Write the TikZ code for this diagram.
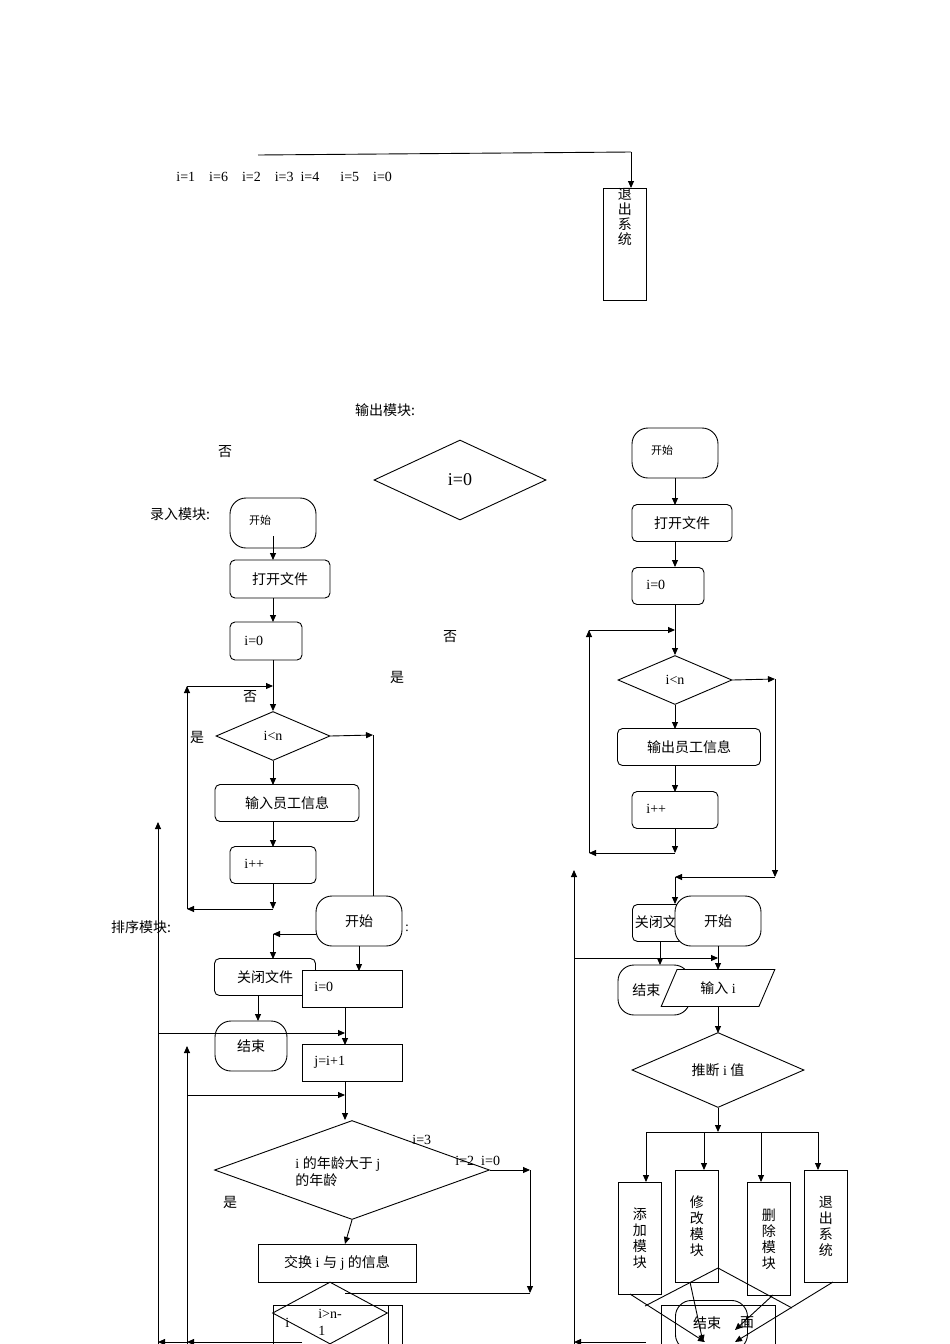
\documentclass[tikz,border=0pt]{standalone}
\usepackage{fontspec}
\setmainfont{Liberation Serif}
\newfontfamily\cjk{Noto Sans CJK SC}
\newcommand{\zh}[1]{{\cjk #1}}
\usetikzlibrary{shapes.geometric,arrows.meta}
\begin{document}
\begin{tikzpicture}[x=1pt,y=-1pt,line width=0.9pt,
  >={Triangle[length=7pt,width=6pt]},
  every node/.style={font=\fontsize{14}{17}\selectfont,inner sep=0pt},
  box/.style={draw,fill=white,rectangle},
  rbox/.style={draw,fill=white,rectangle,rounded corners=5pt},
  stad/.style={draw,fill=white,rectangle,rounded corners=16pt},
  dia/.style={draw,fill=white,diamond,aspect=2.2},
  vbox/.style={draw,fill=white,rectangle,anchor=north west,align=center,text width=16pt,font=\fontsize{14}{16}\selectfont},
  lab/.style={anchor=west}]
\useasboundingbox (0,0) rectangle (950,1344);
% top
\node[lab] (topi) at (176,177) {i=1\quad i=6\quad i=2\quad i=3\enspace i=4\quad\enspace i=5\quad i=0};
\node[draw,fill=white,minimum width=43pt,minimum height=112pt,anchor=north west] (ex1) at (603,188) {};
\node[anchor=north,align=center,font=\fontsize{14}{16}\selectfont] at (ex1.north) {\zh{退}\\[-1pt]\zh{出}\\[-1pt]\zh{系}\\[-1pt]\zh{统}};
\coordinate (t0) at (258,155);
\coordinate (t1) at (631,152);
\draw (t0) -- (t1);
\draw[->] (t1) -- (ex1.north-|t1);
\node at (385,410) {\zh{输出模块:}};
\node at (225,452) {\zh{否}};
\node[dia,minimum width=172pt,minimum height=80pt,aspect=2.15,font=\fontsize{18}{20}\selectfont] (d0) at (460,480) {i=0};
\node at (180,514) {\zh{录入模块:}};
\node at (450,637) {\zh{否}};
\node at (397,677) {\zh{是}};
% left column
\node[stad,minimum width=86pt,minimum height=50pt] (s1) at (273,523) {};
\node[font=\fontsize{11}{13}\selectfont] at (260,520) {\zh{开始}};
\node[rbox,minimum width=100pt,minimum height=38pt] (of1) at (280,579) {\zh{打开文件}};
\node[rbox,minimum width=72pt,minimum height=38pt] (i01) at (266,641) {};
\node[lab] at (244,641) {i=0};
\node[dia,minimum width=114pt,minimum height=49pt,aspect=2.3] (lt1) at (273,736) {i<n};
\node[rbox,minimum width=144pt,minimum height=37pt] (in1) at (287,803) {\zh{输入员工信息}};
\node[rbox,minimum width=86pt,minimum height=37pt] (pp1) at (273,865) {};
\node[lab] at (244,864) {i++};
\draw[->] (273,536) -- (273,560);
\draw[->] (273,598) -- (273,622);
\draw[->] (273,660) -- (lt1.north);
\draw[->] (lt1.south) -- (273,785);
\draw[->] (273,822) -- (273,847);
\draw[->] (273,884) -- (273,909);
\coordinate (a1) at (187,909);
\coordinate (a2) at (187,686);
\draw[->] (273,909) -- (a1);
\draw[->] (a1) -- (a2);
\draw[->] (a2) -- (273,686);
\node at (250,697) {\zh{否}};
\node at (197,737) {\zh{是}};
\draw[->] (lt1.east) -- (373,735);
\draw (373,735) -- (373,896);
% sort module
\node at (141,927) {\zh{排序模块:}};
\node[stad,minimum width=86pt,minimum height=50pt] (s2) at (359,921) {\zh{开始}};
\node at (407,928) {:};
\draw[->] (316,934) -- (273,934);
\draw[->] (273,934) -- (273,959);
\node[rbox,minimum width=101pt,minimum height=37pt] (cf1) at (265,977) {\zh{关闭文件}};
\node[stad,minimum width=72pt,minimum height=50pt] (e1) at (251,1046) {\zh{结束}};
\draw[->] (258,996) -- (258,1021);
\node[box,minimum width=100pt,minimum height=37pt] (si0) at (352,989) {};
\node[lab] at (314,987) {i=0};
\draw[->] (359,946) -- (359,971);
\node[box,minimum width=100pt,minimum height=37pt] (sj) at (352,1063) {};
\node[lab] at (314,1062) {j=i+1};
\draw[->] (345,1008) -- (345,1045);
\draw[->] (158,1344) -- (158,822);
\draw[->] (158,1033) -- (345,1033);
\draw[->] (187,1344) -- (187,1046);
\draw[->] (187,1095) -- (345,1095);
\draw[->] (345,1082) -- (345,1120);
\node[dia,minimum width=275pt,minimum height=99pt,aspect=2.78] (cmp) at (352,1170) {};
\node[anchor=west,align=left] at (295,1172) {i \zh{的年龄大于} j\\\zh{的年龄}};
\node[lab] at (412,1140) {i=3};
\node[lab] at (455,1161) {i=2\enspace i=0};
\node at (230,1202) {\zh{是}};
\draw[->] (cmp.east) -- (530,1170);
\draw[->] (530,1170) -- (530,1293);
\draw (530,1293) -- (345,1293);
\draw[->] (cmp.south) -- (345,1244);
\node[box,minimum width=158pt,minimum height=38pt] (sw) at (337,1263) {\zh{交换} i \zh{与} j \zh{的信息}};
\node[box,minimum width=129pt,minimum height=39pt,anchor=north west] (rb) at (273,1305) {};
\draw (388,1305) -- (388,1344);
\node[lab] at (285,1323) {i};
\node[dia,minimum width=115pt,minimum height=62pt,aspect=1.85,fill=none] (gt) at (330,1313) {};
\node[align=left] at (330,1322) {i>n-\\1};
\draw[->] (302,1342) -- (187,1342);
\draw[->] (187,1342) -- (158,1342);
% right column
\node[stad,minimum width=86pt,minimum height=50pt] (s3) at (675,453) {};
\node[font=\fontsize{11}{13}\selectfont] at (662,450) {\zh{开始}};
\node[rbox,minimum width=100pt,minimum height=37pt] (of3) at (682,523) {\zh{打开文件}};
\node[rbox,minimum width=72pt,minimum height=37pt] (i03) at (668,586) {};
\node[lab] at (646,585) {i=0};
\draw[->] (675,478) -- (675,505);
\draw[->] (675,542) -- (675,567);
\draw[->] (675,604) -- (675,655);
\node[dia,minimum width=114pt,minimum height=49pt,aspect=2.3] (lt3) at (675,680) {i<n};
\node[rbox,minimum width=143pt,minimum height=37pt] (out3) at (689,747) {\zh{输出员工信息}};
\node[rbox,minimum width=86pt,minimum height=37pt] (pp3) at (675,810) {};
\node[lab] at (646,809) {i++};
\draw[->] (lt3.south) -- (675,729);
\draw[->] (675,766) -- (675,792);
\draw[->] (675,829) -- (675,853);
\coordinate (b1) at (589,853);
\coordinate (b2) at (589,630);
\draw[->] (675,853) -- (b1);
\draw[->] (b1) -- (b2);
\draw[->] (b2) -- (675,630);
\draw[->] (lt3.east) -- (775,679);
\draw[->] (775,679) -- (775,877);
\draw[->] (775,877) -- (675,877);
\draw[->] (675,877) -- (675,904);
\node[rbox,minimum width=90pt,minimum height=37pt,anchor=north west] (cf3) at (632,904) {};
\node[lab] at (632,922) {\,\zh{关闭文}};
\node[stad,minimum width=86pt,minimum height=50pt] (s4) at (718,921) {\zh{开始}};
\node[stad,minimum width=72pt,minimum height=50pt] (e3) at (654,990) {};
\node[lab] at (632,990) {\zh{结束}};
\draw[->] (660,941) -- (660,965);
\draw[->] (574,1344) -- (574,870);
\draw[->] (574,958) -- (718,958);
\draw[->] (718,946) -- (718,970);
\node[trapezium,trapezium left angle=62,trapezium right angle=118,draw,fill=white,minimum width=114pt,minimum height=37pt,trapezium stretches=true] (inp) at (718,988) {\zh{输入} i};
\draw[->] (718,1007) -- (718,1033);
\node[dia,minimum width=172pt,minimum height=75pt,aspect=2.3] (dec) at (718,1070) {\zh{推断} i \zh{值}};
\draw[->] (dec.south) -- (718,1132);
\draw (646,1132) -- (818,1132);
\node[vbox,minimum width=43pt,minimum height=112pt] (m1) at (618,1182) {\zh{添}\\\zh{加}\\\zh{模}\\\zh{块}};
\node[vbox,minimum width=43pt,minimum height=112pt] (m2) at (675,1170) {\zh{修}\\\zh{改}\\\zh{模}\\\zh{块}};
\node[vbox,minimum width=43pt,minimum height=113pt] (m3) at (747,1182) {\zh{删}\\\zh{除}\\\zh{模}\\\zh{块}};
\node[vbox,minimum width=43pt,minimum height=112pt] (m4) at (804,1170) {\zh{退}\\\zh{出}\\\zh{系}\\\zh{统}};
\draw[->] (646,1132) -- (m1.north-|646,0);
\draw[->] (704,1132) -- (m2.north-|704,0);
\draw[->] (761,1132) -- (m3.north-|761,0);
\draw[->] (818,1132) -- (m4.north-|818,0);
\node[box,minimum width=114pt,minimum height=40pt,anchor=north west] (rb3) at (661,1305) {};
\draw (645,1306) -- (718,1268) -- (792,1308);
\node[stad,minimum width=72pt,minimum height=50pt,anchor=north west,fill=none] (e4) at (675,1300) {};
\node at (707,1323) {\zh{结束}};
\node at (747,1323) {\zh{面}};
\draw[->] (630,1294) -- (705,1342);
\draw[->] (690,1282) -- (703,1342);
\draw[->] (773,1295) -- (735,1330);
\draw[->] (833,1282) -- (735,1342);
\draw[->] (646,1342) -- (574,1342);
\end{tikzpicture}
\end{document}
